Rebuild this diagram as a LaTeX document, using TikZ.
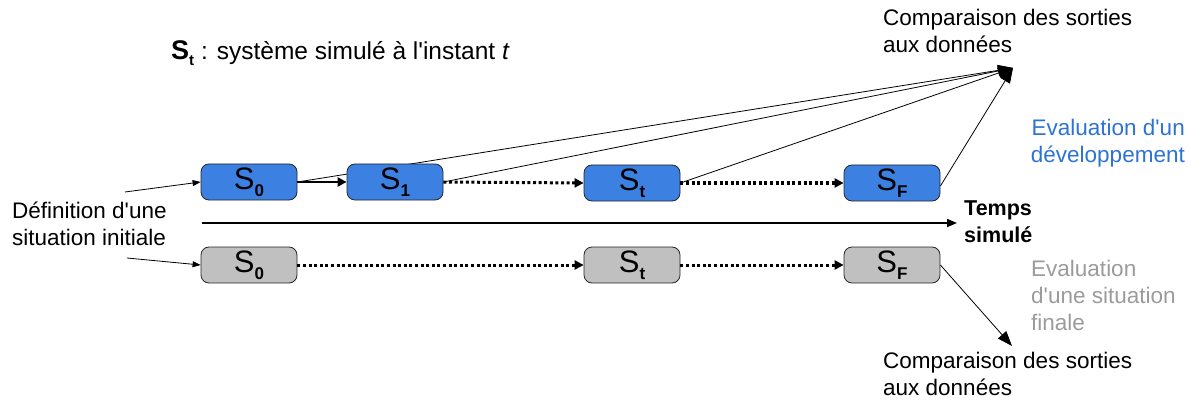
\documentclass[tikz,border=0pt]{standalone}
\usepackage{fontspec}
\setmainfont{Liberation Sans}[Ligatures=TeXOff]
\usetikzlibrary{arrows.meta,backgrounds}
\definecolor{boxblue}{RGB}{60,128,226}
\definecolor{boxgray}{RGB}{192,192,192}
\definecolor{evalblue}{RGB}{45,115,210}
\definecolor{evalgray}{RGB}{155,155,155}
\newcommand\Ssub[1]{\fontsize{31}{31}\selectfont S\raisebox{-7pt}{\fontsize{17}{17}\selectfont\bfseries #1}}
\begin{document}
\begin{tikzpicture}[x=1pt,y=-1pt,
  stbox/.style={draw=black!85, line width=0.8pt, rounded corners=8pt, minimum width=96pt, minimum height=36pt, inner sep=0pt},
  bluebox/.style={stbox, fill=boxblue},
  graybox/.style={stbox, fill=boxgray},
  lbl/.style={font=\fontsize{22.5}{27}\selectfont, inner sep=0pt, align=left},
  inarrow/.style={line width=0.8pt, -{Triangle[length=8pt,width=6pt]}},
  solidarrow/.style={line width=2.6pt, -{Triangle[length=9pt,width=9pt]}},
  dotarrow/.style={line width=3pt, dash pattern=on 3pt off 2.6pt, -{Triangle[length=9pt,width=9pt]}},
  convarrow/.style={line width=0.8pt, -{Triangle[length=15pt,width=11pt]}},
  axisarrow/.style={line width=1.8pt, -{Triangle[length=10pt,width=8pt]}}]
\useasboundingbox (0,0) rectangle (1190,406);

% boxes
\node[bluebox] (b0) at (249,182) {\Ssub{0}};
\node[bluebox] (b1) at (395,182) {\Ssub{1}};
\node[bluebox] (bt) at (632,183) {\Ssub{t}};
\node[bluebox] (bf) at (892,183) {\Ssub{F}};
\node[graybox] (g0) at (249,265) {\Ssub{0}};
\node[graybox] (gt) at (632,265) {\Ssub{t}};
\node[graybox] (gf) at (892,265) {\Ssub{F}};

% texts (base anchor = baseline of the last line)
\node[lbl, font=\fontsize{24.5}{27}\selectfont, anchor=base west] (legend) at (171,60) {{\bfseries\fontsize{27}{27}\selectfont S\raisebox{-6pt}{\fontsize{15}{15}\selectfont t}} : système simulé à l'instant \textit{t}};
\node[lbl, anchor=base west] (def) at (12,245) {Définition d'une\\situation initiale};
\node[lbl, anchor=base west] (cmpA) at (883,53) {Comparaison des sorties\\aux données};
\node[lbl, anchor=base west] (cmpB) at (883,395) {Comparaison des sorties\\aux données};
\node[lbl, font=\fontsize{21.5}{27}\selectfont\bfseries, anchor=base west] (temps) at (964,242) {Temps\\simulé};
\node[lbl, align=right, anchor=base east, text=evalblue] (evd) at (1185,163) {Evaluation d'un\\développement};
\node[lbl, text=evalgray, anchor=base west] (evf) at (1031,330) {Evaluation\\d'une situation\\finale};

% free ends
\coordinate (inA) at (125,192);
\coordinate (inB) at (127,258);
\coordinate (tgtTop) at (1013,68);
\coordinate (tgtBot) at (1012,346);
\coordinate (axA) at (202,223);
\coordinate (axB) at (957,223);

\begin{scope}[on background layer]
\draw[convarrow] (b0.east) -- (tgtTop);
\draw[convarrow] (b1.east) -- (tgtTop);
\draw[convarrow] (bt.east) -- (tgtTop);
\draw[convarrow] ([yshift=-3pt]bf.east) -- (tgtTop);
\end{scope}

\draw[inarrow] (inA) -- (b0.west);
\draw[inarrow] (inB) -- (g0.west);
\draw[solidarrow] (b0.east) -- (b1.west);
\draw[dotarrow] (b1.east) -- (bt.west);
\draw[dotarrow] (bt.east) -- (bf.west);
\draw[dotarrow] (g0.east) -- (gt.west);
\draw[dotarrow] (gt.east) -- (gf.west);
\draw[convarrow] (gf.east) -- (tgtBot);
\draw[axisarrow] (axA) -- (axB);
\end{tikzpicture}
\end{document}
